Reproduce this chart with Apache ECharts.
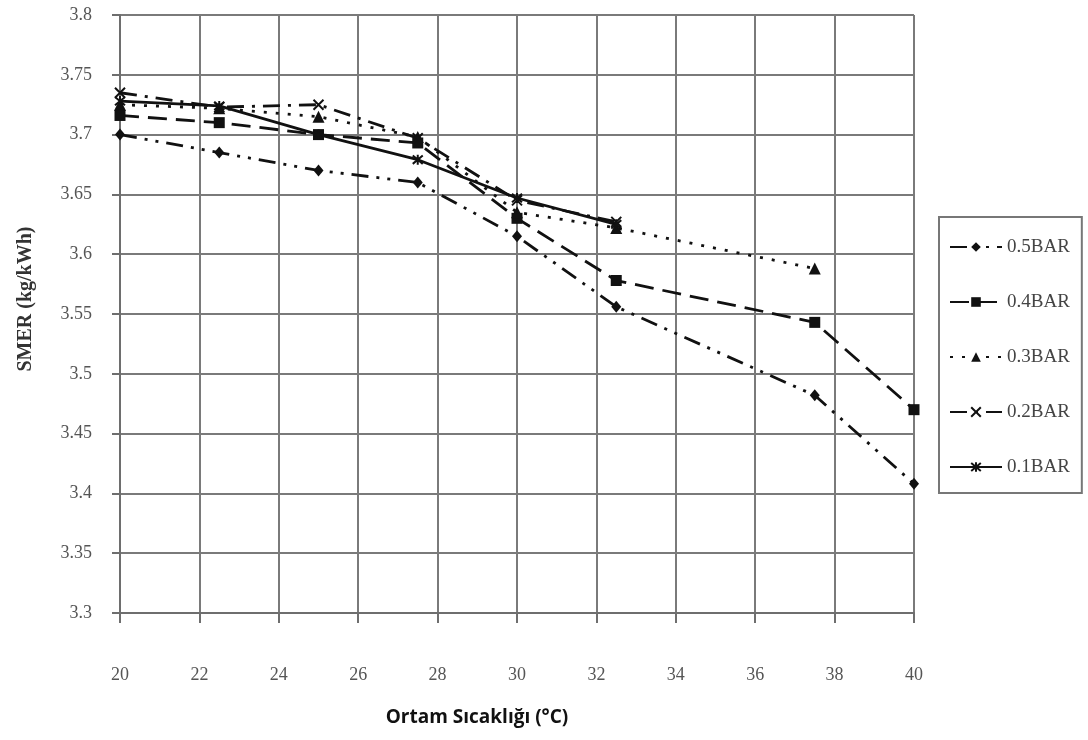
<!DOCTYPE html>
<html>
<head>
<meta charset="utf-8">
<script src="https://cdn.jsdelivr.net/npm/echarts@6/dist/echarts.min.js"></script>
<style>
  html, body { margin: 0; padding: 0; background: #fff; }
  #chart { width: 1088px; height: 740px; }
</style>
</head>
<body>
<div id="chart"></div>
<script>
// Ambient temperature (°C) at which SMER was measured
const temperatures = [20, 22.5, 25, 27.5, 30, 32.5, 37.5, 40];

// SMER (kg/kWh) for each pressure level
const bar05 = [3.700, 3.685, 3.670, 3.660, 3.615, 3.556, 3.482, 3.408];
const bar04 = [3.716, 3.710, 3.700, 3.693, 3.630, 3.578, 3.543, 3.470];
const bar03 = [3.725, 3.722, 3.715, 3.698, 3.635, 3.622, 3.588, null];
const bar02 = [3.735, 3.723, 3.725, 3.697, 3.645, 3.627, null, null];
const bar01 = [3.728, 3.724, 3.700, 3.679, 3.647, 3.625, null, null];

const seriesNames = ['0.5BAR', '0.4BAR', '0.3BAR', '0.2BAR', '0.1BAR'];

// Axis ticks
const xTicks = [20, 22, 24, 26, 28, 30, 32, 34, 36, 38, 40];
const yTicks = [3.3, 3.35, 3.4, 3.45, 3.5, 3.55, 3.6, 3.65, 3.7, 3.75, 3.8];

const xTitle = 'Ortam Sıcaklığı (°C)';
const yTitle = 'SMER (kg/kWh)';

function pairs(values) {
  const out = [];
  temperatures.forEach((t, i) => {
    if (values[i] != null) out.push([t, values[i]]);
  });
  return out;
}

const INK = '#111';
const crossPath = 'path://M0,0L10,10M10,0L0,10';
const starPath = 'path://M0,0L10,10M10,0L0,10M5,-1L5,11';

const styles = [
  { data: bar05, symbol: 'diamond', size: [10, 12], dash: [17, 8, 3, 8, 3, 8] },
  { data: bar04, symbol: 'rect', size: 11, dash: [19, 9] },
  { data: bar03, symbol: 'triangle', size: 12, dash: [3, 9] },
  { data: bar02, symbol: crossPath, size: 10, dash: [17, 8, 3, 8], stroke: true },
  { data: bar01, symbol: starPath, size: 10, dash: 'solid', stroke: true }
];

const series = styles.map((s, i) => ({
  name: seriesNames[i],
  type: 'line',
  data: pairs(s.data),
  symbol: s.symbol,
  symbolSize: s.size,
  showAllSymbol: true,
  animation: false,
  lineStyle: { color: INK, width: 2.8, type: s.dash },
  itemStyle: s.stroke
    ? { color: 'none', borderColor: INK, borderWidth: 2 }
    : { color: INK, borderColor: INK, borderWidth: 0 },
  emphasis: { disabled: true }
}));

const chart = echarts.init(document.getElementById('chart'), null, { renderer: 'canvas' });

chart.setOption({
  backgroundColor: '#fff',
  animation: false,
  grid: { left: 120, right: 174, top: 15, bottom: 127, containLabel: false },
  xAxis: {
    type: 'value',
    min: xTicks[0],
    max: xTicks[xTicks.length - 1],
    interval: 2,
    axisLine: { show: true, onZero: false, lineStyle: { color: '#6e6e6e', width: 2 } },
    axisTick: { show: true, length: 10, inside: false, lineStyle: { color: '#6e6e6e', width: 2 } },
    axisLabel: {
      margin: 53,
      color: '#555',
      fontFamily: 'Liberation Serif',
      fontSize: 18
    },
    splitLine: { show: true, lineStyle: { color: '#7a7a7a', width: 2 } }
  },
  yAxis: {
    type: 'value',
    min: yTicks[0],
    max: yTicks[yTicks.length - 1],
    interval: 0.05,
    axisLine: { show: true, lineStyle: { color: '#6e6e6e', width: 2 } },
    axisTick: { show: true, length: 8, inside: false, lineStyle: { color: '#6e6e6e', width: 2 } },
    axisLabel: {
      margin: 28,
      color: '#555',
      fontFamily: 'Liberation Serif',
      fontSize: 18,
      formatter: v => String(+v.toFixed(2))
    },
    splitLine: { show: true, lineStyle: { color: '#7a7a7a', width: 2 } }
  },
  legend: {
    orient: 'vertical',
    left: 939,
    top: 217,
    padding: [20, 12, 16, 10],
    itemGap: 35,
    itemWidth: 52,
    itemHeight: 12,
    borderColor: '#777',
    borderWidth: 2,
    backgroundColor: '#fff',
    textStyle: { color: '#444', fontFamily: 'Liberation Serif', fontSize: 19, lineHeight: 20 },
    data: seriesNames
  },
  graphic: [
    {
      type: 'text',
      x: 477,
      y: 718,
      style: {
        text: xTitle,
        fill: '#111',
        font: 'bold 19px "Open Sans"',
        align: 'center',
        verticalAlign: 'middle'
      }
    },
    {
      type: 'text',
      x: 26,
      y: 299,
      rotation: Math.PI / 2,
      style: {
        text: yTitle,
        fill: '#333',
        font: 'bold 20px "Liberation Serif"',
        align: 'center',
        verticalAlign: 'middle'
      }
    }
  ],
  series: series
});
</script>
</body>
</html>
